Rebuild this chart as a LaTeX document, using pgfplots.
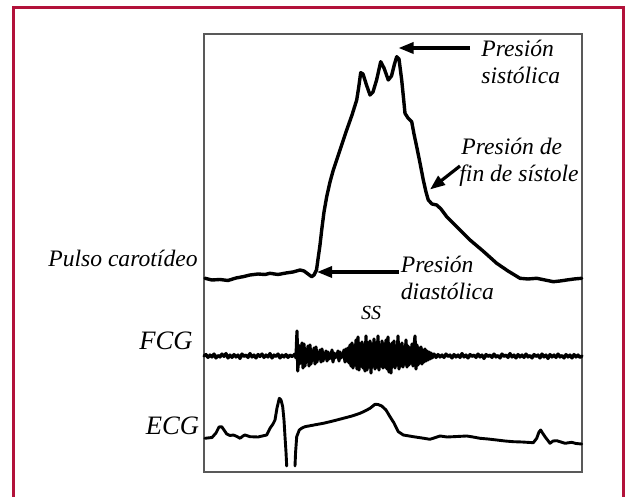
\documentclass[border=0pt]{standalone}
\usepackage{fontspec}
\setmainfont{Liberation Serif}
\usepackage{pgfplots}
\pgfplotsset{compat=1.18}
\usetikzlibrary{arrows.meta}
\definecolor{marco}{RGB}{178,18,58}
\tikzset{
  lbl/.style={font=\fontsize{11.8}{13}\selectfont\itshape, inner sep=0pt},
  flecha/.style={line width=1.6pt, -{Triangle[length=7.5pt,width=5.5pt]}},
}

% all data in pixel units of the source (x to the right, y downwards)
\begin{document}
\begin{tikzpicture}
\useasboundingbox (0,0) rectangle (314pt,248.5pt);
\begin{axis}[
  at={(196.5pt,122pt)}, anchor=center,
  scale only axis, width=189pt, height=219pt,
  xmin=204, xmax=582, ymin=34, ymax=472, y dir=reverse,
  xtick=\empty, ytick=\empty,
  axis line style={draw=black!65, line width=0.7pt},
  clip=false, unbounded coords=jump,
  every axis plot/.append style={black, line join=round, line cap=round, no markers},
]
% pulso carotideo
\addplot[line width=1.7pt] coordinates {
  (205,278.3) (212,280) (220,279.5) (228,280.5) (236,278) (243,276.7) (250,275)
  (258,274) (265,274.5) (270,273.3) (278,274.5) (286,273) (293,272) (300,270)
  (304,271) (308,274) (311.7,276.7) (314,275) (316.5,270) (318.3,257)
  (320,245) (321.7,230) (324,212) (326.7,196.7) (330,182) (333.3,170)
  (340,150) (346.7,130) (352,115) (356.7,100) (358.6,88) (360.7,72.7)
  (363,74) (366.5,85) (370,95) (373,92) (376.6,80) (380.7,61.7) (384,68)
  (388.3,80) (391.5,76) (394.5,64) (396.7,56.7) (399,59) (401.7,80)
  (403.5,98) (405,113.3) (408,118) (411.7,121.7) (414,134) (416.7,146.7)
  (420,163) (423.3,180) (426,192) (428.3,200) (432,204) (436.7,205)
  (441,209) (446.7,216.7) (458,228) (470,240) (483,251) (496.7,263.3)
  (508,271) (520,278.3) (528,279) (536.7,278.3) (545,280) (553.3,281.7)
  (560,281) (566.7,280) (574,279) (581.7,278.3)
};
% FCG
\addplot[line width=1.6pt] coordinates {
  (204,356) (206,354.5) (208,357.5) (210,355) (212,357) (214,354) (216,358)
  (218,355.5) (220,357) (222,354) (224,356.5) (226,353.5) (228,358) (230,355)
  (232,357.5) (234,354.5) (236,357) (238,355) (240,358.5) (242,354) (244,356.5)
  (246,355) (248,357.5) (250,353.5) (252,357) (254,355) (256,358) (258,354.5)
  (260,356.5) (262,354) (264,357.5) (266,355) (268,357) (270,353.5) (272,358)
  (274,355) (276,356.5) (278,354) (280,358) (282,355) (284,357) (286,354.5)
  (288,357.5) (290,355) (292,356.5) (294,355)
  (295,354) (296,358) (297,331) (297.8,371) (298.6,345) (299.4,364) (300.2,352)
  (301,358) (302,343) (303,368) (304,344) (305,366) (306,352) (307,359)
  (308,346) (309,366) (310,345) (311,364) (312,353) (313,358) (314,348)
  (315,364) (316,347) (317,362) (318,353) (319,358) (320,350) (321,362)
  (322,349) (323,361) (324,354) (325,357) (326,351) (327,361) (328,352)
  (329,359) (330,354) (331,358) (332,350) (333,362) (334,353) (335,358)
  (336,354) (337,357) (338,351) (339,361) (340,352) (341,358) (342,354)
  (343,357) (344,350) (345,362) (346,349) (347,361) (348,348) (349,363)
  (350,345) (351,366) (352,343) (353,368) (354,346) (355,365) (356,340)
  (357,369) (358,337) (359,370) (360,344) (361,366) (362,342) (363,368)
  (364,345) (365,371) (366,336) (367,370) (368,343) (369,367) (370,341)
  (371,373) (372,344) (373,366) (374,339) (375,369) (376,343) (377,367)
  (378,336) (379,370) (380,345) (381,366) (382,341) (383,368) (384,344)
  (385,367) (386,340) (387,369) (388,337) (389,372) (390,345) (391,373)
  (392,343) (393,366) (394,341) (395,368) (396,346) (397,365) (398,336)
  (399,369) (400,345) (401,366) (402,343) (403,367) (404,347) (405,364)
  (406,340) (407,367) (408,346) (409,365) (410,348) (411,363) (412,344)
  (413,366) (414,347) (415,336) (416,369) (417,345) (418,365) (419,348)
  (420,363) (421,347) (422,364) (423,350) (424,362) (425,349) (426,361)
  (427,351) (428,360) (429,352) (430,359) (431,353) (432,358) (434,354)
  (436,357.5) (438,354.5)
  (440,357) (442,355) (444,357.5) (446,354) (448,356.5) (450,355) (452,358)
  (454,354.5) (456,357) (458,355) (460,357.5) (462,353.5) (464,357) (466,355)
  (468,358) (470,354.5) (472,356.5) (474,355) (476,357.5) (478,354) (480,357)
  (482,355) (484,358.5) (486,354.5) (488,356.5) (490,355) (492,357.5) (494,354)
  (496,357) (498,355.5) (500,358) (502,354) (504,356.5) (506,355) (508,357.5)
  (510,353.5) (512,357) (514,355) (516,358) (518,354.5) (520,357) (522,355)
  (524,357.5) (526,354) (528,357) (530,355.5) (532,358) (534,354.5) (536,356.5)
  (538,355) (540,358) (542,354) (544,357) (546,355) (548,358.5) (550,354.5)
  (552,357) (554,355) (556,357.5) (558,354) (560,357) (562,355.5) (564,358)
  (566,354.5) (568,357) (570,355) (572,358) (574,354.5) (576,357) (578,355)
  (580,357.5) (582,356)
};
% ECG
\addplot[line width=1.45pt] coordinates {
  (205,438.3) (212,437.5) (216,433) (219,427) (221.7,426.7) (224,430)
  (226.7,434) (230,435.5) (233.3,435) (237,436.5) (240,438.3) (243,436)
  (245,435) (248,436) (250,436.7) (258,437) (266.7,435) (270,428.3)
  (273,424) (275,420) (277,408) (279.3,398.3) (281,400) (282.7,406.7)
  (284,420) (285,436.7) (286,452) (286.7,466)
  (291,nan)
  (295,466) (295.6,452) (296.7,436.7) (299.3,430) (302,428) (305,426.7)
  (314,425) (323.3,423.3) (333,421) (343.3,418.3) (352,416) (360,413.3)
  (365,411) (370,408.3) (375,404.3) (378,404.5) (381.7,406) (386,410)
  (390,416.7) (394,423) (398.3,431.7) (403.3,435) (413.3,436.7)
  (422,438) (430,439.3) (440,436) (447,437) (453.3,436.7) (466.7,436)
  (473,437) (480,438.3) (488,439) (496.7,440) (505,441) (513.3,441.7)
  (522,442) (533.3,442.7) (536.7,438.3) (539,432) (540.7,430) (542.5,433)
  (545,436.7) (547.5,440) (550,443.3) (553,441) (556.7,440.7) (561,442)
  (565,443.3) (571.7,442.3) (576,443.5) (581.7,444)
};
% flechas
\draw[flecha] (axis cs:470,48) -- (axis cs:398.5,48);
\draw[flecha] (axis cs:398.5,272) -- (axis cs:317,272);
\draw[flecha] (axis cs:460,166) -- (axis cs:430,189.5);
% textos
\node[lbl, anchor=base west] at (axis cs:481,57) {Presión};
\node[lbl, anchor=base west] at (axis cs:481,83.3) {sistólica};
\node[lbl, anchor=base west] at (axis cs:461,155) {Presión de};
\node[lbl, anchor=base west] at (axis cs:459,181.7) {fin de sístole};
\node[lbl, anchor=base west] at (axis cs:400.5,273) {Presión};
\node[lbl, anchor=base west] at (axis cs:400.5,300) {diastólica};
\node[lbl, anchor=base west, font=\fontsize{10}{12}\selectfont\itshape] at (axis cs:360.6,320) {SS};
\node[lbl, anchor=base east] at (axis cs:198,266.7) {Pulso carotídeo};
\node[lbl, anchor=base east, font=\fontsize{13.3}{15}\selectfont\itshape] at (axis cs:193,350) {FCG};
\node[lbl, anchor=base east, font=\fontsize{13.3}{15}\selectfont\itshape] at (axis cs:199.5,435) {ECG};
\end{axis}
\draw[marco, line width=1.5pt] (6.75pt,-5pt) -- (6.75pt,244.5pt) -- (311.6pt,244.5pt) -- (311.6pt,-5pt);
\end{tikzpicture}
\end{document}
